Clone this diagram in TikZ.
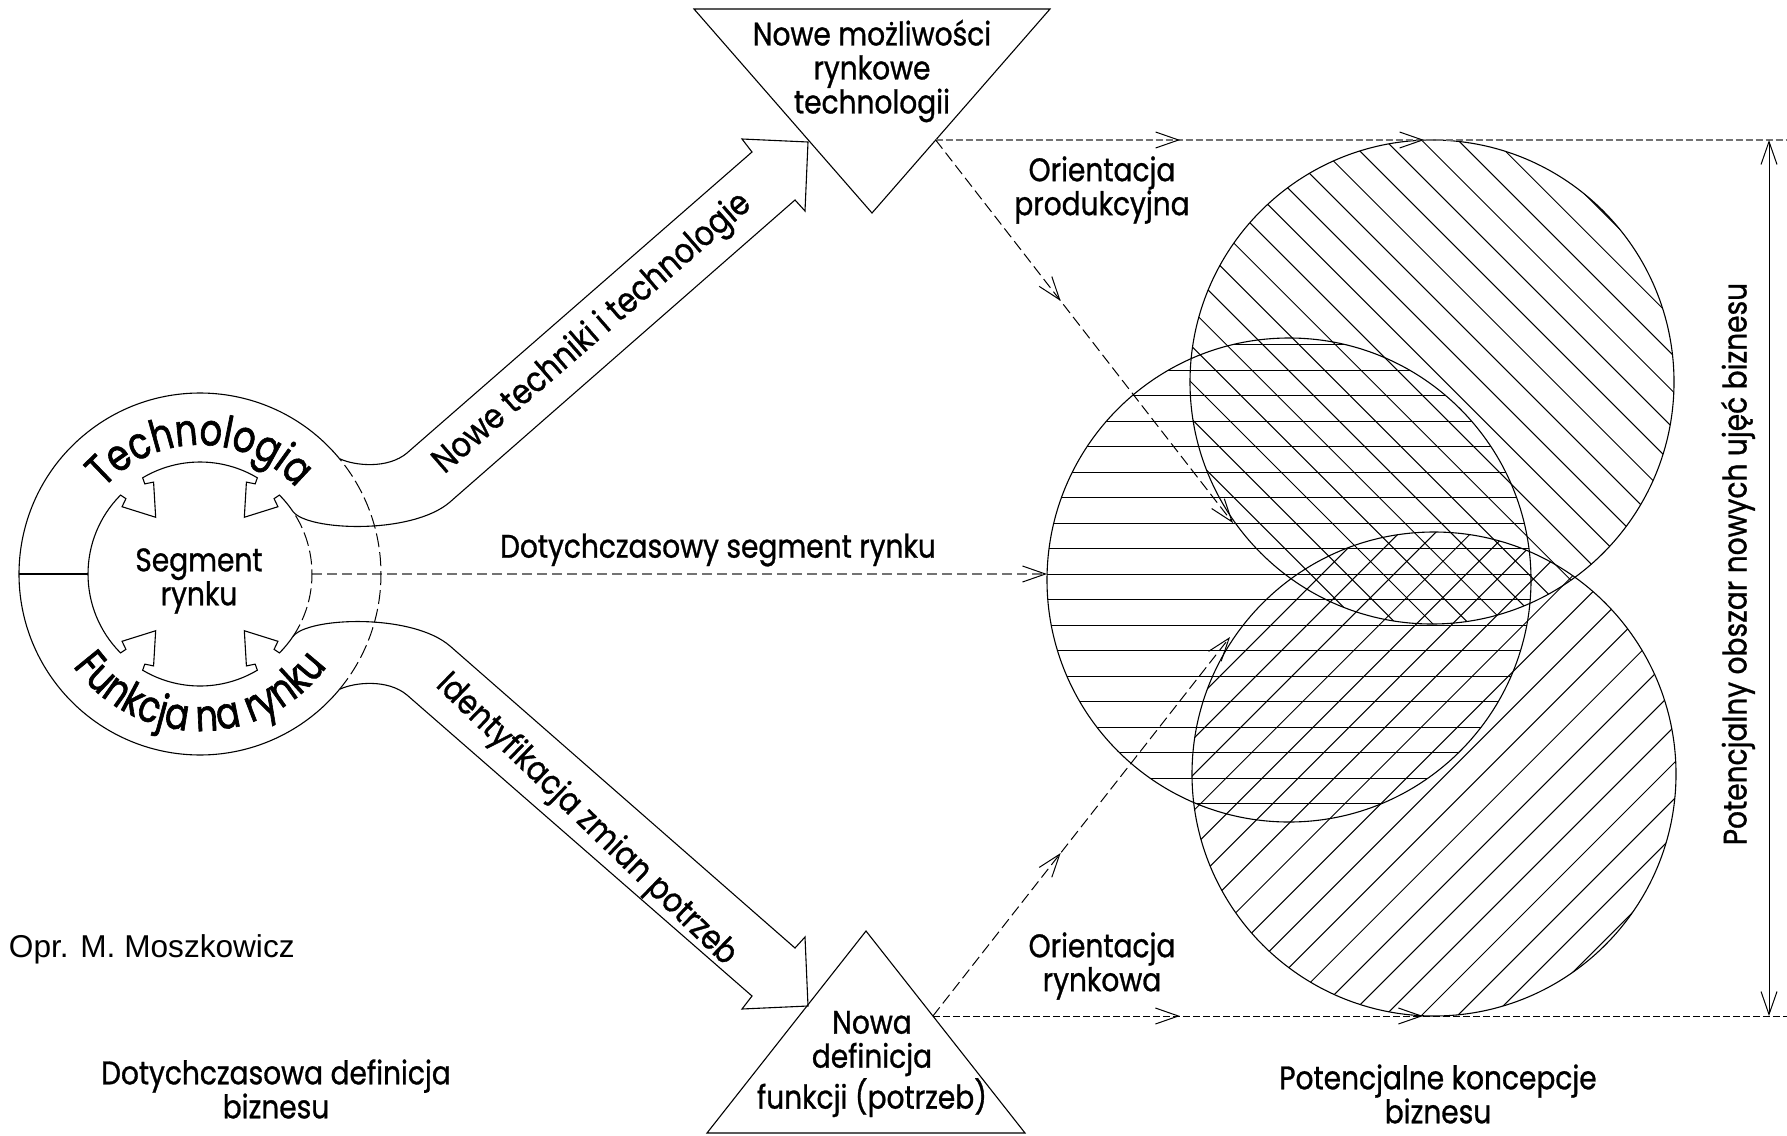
\documentclass[tikz,border=0pt]{standalone}
\usepackage{fontspec}
\setmainfont{Poppins}[FakeStretch=0.86,FakeBold=0.9]
\newfontfamily\ringfont{Poppins}[FakeStretch=0.8,FakeBold=1.4]
\newfontfamily\arialfont{Liberation Sans}
\usetikzlibrary{arrows.meta,calc,decorations.markings,decorations.text}

% one inward-pointing notch of the inner ring, centred on angle #1
\newcommand\ringnotch[1]{%
  -- ($(O)+(#1:105)+({#1-90}:12)$)
  -- ($(O)+(#1:101)+({#1-90}:20)$)
  -- ($(O)+(#1:72)$)
  -- ($(O)+(#1:101)+({#1+90}:20)$)
  -- ($(O)+(#1:105)+({#1+90}:12)$)
  -- ($(O)+({#1+7.2}:112)$)}

\begin{document}
\begin{tikzpicture}[x=0.5pt,y=0.5pt,
  every node/.style={inner sep=0pt,outer sep=0pt},
  >={Straight Barb[length=11.5pt,width=8pt]},
  tipblack/.tip={Straight Barb[length=11.5pt,width=8pt,color=black,line width=0.5pt]},
  txt/.style={font=\fontsize{16.3}{17}\selectfont,align=center},
  arrowtxt/.style={font=\fontsize{17.4}{18}\selectfont},
  edge/.style={line width=0.55pt,line join=miter},
  ring/.style={line width=0.55pt},
  arcdash/.style={line width=0.5pt,dash pattern=on 7pt off 2.5pt},
  diagdash/.style={line width=0.5pt,dash pattern=on 5.5pt off 2.5pt},
  griddash/.style={line width=0.8pt,draw=black!55,dash pattern=on 3.5pt off 1.5pt},
  basedash/.style={line width=0.5pt,dash pattern=on 3.5pt off 1.5pt},
  middash/.style={line width=0.8pt,draw=black!55,dash pattern=on 5pt off 2.5pt},
  hatch/.style={line width=0.5pt},
  midtip/.style={postaction={decorate},decoration={markings,
      mark=at position #1 with {\arrow{tipblack}}}},
  twotips/.style 2 args={postaction={decorate},decoration={markings,
      mark=at position #1 with {\arrow{tipblack}},
      mark=at position #2 with {\arrow{tipblack}}}},
]
\fill[white] (0,0) rectangle (1787,-1135);
\useasboundingbox (0,0) rectangle (1787,-1135);

% ---------- coordinates ----------
\coordinate (O) at (200,-574);
\coordinate (cA) at (1432,-382);
\coordinate (cB) at (1289,-580);
\coordinate (cC) at (1434,-774);
\coordinate (t1) at (694,-9);
\coordinate (t2) at (1050,-9);
\coordinate (t3) at (872,-213);
\coordinate (b1) at (707,-1133);
\coordinate (b2) at (1025,-1133);
\coordinate (b3) at (866,-931);
\coordinate (tr) at (935.7,-140);
\coordinate (br) at (932.9,-1016);
\coordinate (topend) at (1787,-140);
\coordinate (botend) at (1787,-1016);
\coordinate (hitA) at (1233,-523);
\coordinate (hitC) at (1230,-637);
\coordinate (segR) at (312,-574);
\coordinate (hitB) at (1047,-574);
\coordinate (dimT) at (1769,-140);
\coordinate (dimB) at (1769,-1016);

% ---------- hatched concept circles ----------
\begin{scope}
  \clip (cB) circle (242);
  \foreach \k in {-10,...,10}
    \draw[hatch] (1030,{-574-25.5*\k}) -- (1550,{-574-25.5*\k});
\end{scope}
\begin{scope}
  \clip (cA) circle (242);
  \foreach \k in {-11,...,11}{
    \pgfmathsetmacro\dd{0.7071*(25.7*\k+9.5)}
    \draw[hatch] ({1432+\dd-190},{-382+\dd+190}) -- ({1432+\dd+190},{-382+\dd-190});
  }
\end{scope}
\begin{scope}
  \clip (cC) circle (242);
  \foreach \k in {-11,...,11}{
    \pgfmathsetmacro\dd{0.7071*(25.5*\k+16.6)}
    \draw[hatch] ({1434-\dd-190},{-774+\dd-190}) -- ({1434-\dd+190},{-774+\dd+190});
  }
\end{scope}
\draw[ring] (cA) circle (242);
\draw[ring] (cB) circle (242);
\draw[ring] (cC) circle (242);

% ---------- triangles ----------
\draw[edge] (t1) -- (t2) -- (t3) -- cycle;
\draw[edge] (b1) -- (b2) -- (b3) -- cycle;

% ---------- dashed connectors ----------
\draw[griddash,twotips={122.2pt}{244.2pt}] (tr) -- (topend);
\draw[basedash,twotips={123.5pt}{245pt}] (br) -- (botend);
\draw[diagdash,midtip=0.42,-tipblack] (tr) -- (hitA);
\draw[diagdash,midtip=0.43,-tipblack] (br) -- (hitC);
\draw[middash,-tipblack] (segR) -- (hitB);
\draw[line width=0.5pt,tipblack-tipblack] (dimT) -- (dimB);

% ---------- segment ring ----------
\draw[ring] (O) ++(39.6:181) arc[start angle=39.6,end angle=320.4,radius=181];
\draw[arcdash] (O) ++(-39.6:181) arc[start angle=-39.6,end angle=39.6,radius=181];
\draw[arcdash] (O) ++(-34:112) arc[start angle=-34,end angle=34,radius=112];
\draw[ring] (19,-574) -- (88,-574);

% inner ring with notches and the two block arrows
\draw[edge] (O) ++(39.6:181)
  .. controls (355,-466) and (388,-469) .. (407,-453)
  -- (752,-152) -- (742,-139) -- (808,-142) -- (805,-211) -- (795,-200)
  -- (450,-502)
  .. controls (412,-535) and (307,-531) .. ($(O)+(34:112)$)
  arc[start angle=34,end angle=44.8,radius=112]
  \ringnotch{52}
  arc[start angle=59.2,end angle=120.8,radius=112]
  \ringnotch{128}
  arc[start angle=135.2,end angle=224.8,radius=112]
  \ringnotch{232}
  arc[start angle=239.2,end angle=300.8,radius=112]
  \ringnotch{308}
  arc[start angle=315.2,end angle=326,radius=112]
  .. controls (307,-617) and (412,-613) .. (450,-646)
  -- (795,-948) -- (805,-937) -- (808,-1006) -- (742,-1009) -- (752,-996)
  -- (407,-695)
  .. controls (388,-679) and (355,-682) .. ($(O)+(-39.6:181)$);

% curved ring labels
\path[decorate,decoration={text along path,text align=center,
  text={|\ringfont\fontsize{22}{22}\selectfont|Technologia}}]
  (O) ++(170:129) arc[start angle=170,end angle=10,radius=129];
\path[decorate,decoration={text along path,text align=center,
  text={|\ringfont\fontsize{22}{22}\selectfont|Funkcja na rynku}}]
  (O) ++(192:157) arc[start angle=192,end angle=348,radius=157];

% ---------- labels ----------
\node[txt] (seg) at (199,-581) {Segment\\rynku};
\node[arrowtxt,rotate=41] (ntt) at (593,-334) {Nowe techniki i technologie};
\node[font=\fontsize{17}{18}\selectfont,rotate=-44] (izp) at (586,-820) {Identyfikacja zmian potrzeb};
\node[txt] (nmr) at (872,-71) {Nowe możliwości\\rynkowe\\technologii};
\node[txt] (ndf) at (872,-1064) {Nowa\\definicja\\funkcji (potrzeb)};
\node[txt] (op) at (1102,-190) {Orientacja\\produkcyjna};
\node[txt] (orr) at (1102,-966) {Orientacja\\rynkowa};
\node[txt] (dsr) at (718,-550) {Dotychczasowy segment rynku};
\node[txt] (ddb) at (276,-1089) {Dotychczasowa definicja\\biznesu};
\node[txt] (pkb) at (1438,-1094) {Potencjalne koncepcje\\biznesu};
\node[txt,rotate=90] (pob) at (1738,-564) {Potencjalny obszar nowych ujęć biznesu};
\node[anchor=west,font=\arialfont\fontsize{15.8}{18}\selectfont] (opr) at (9,-949) {Opr. M. Moszkowicz};
\end{tikzpicture}
\end{document}
